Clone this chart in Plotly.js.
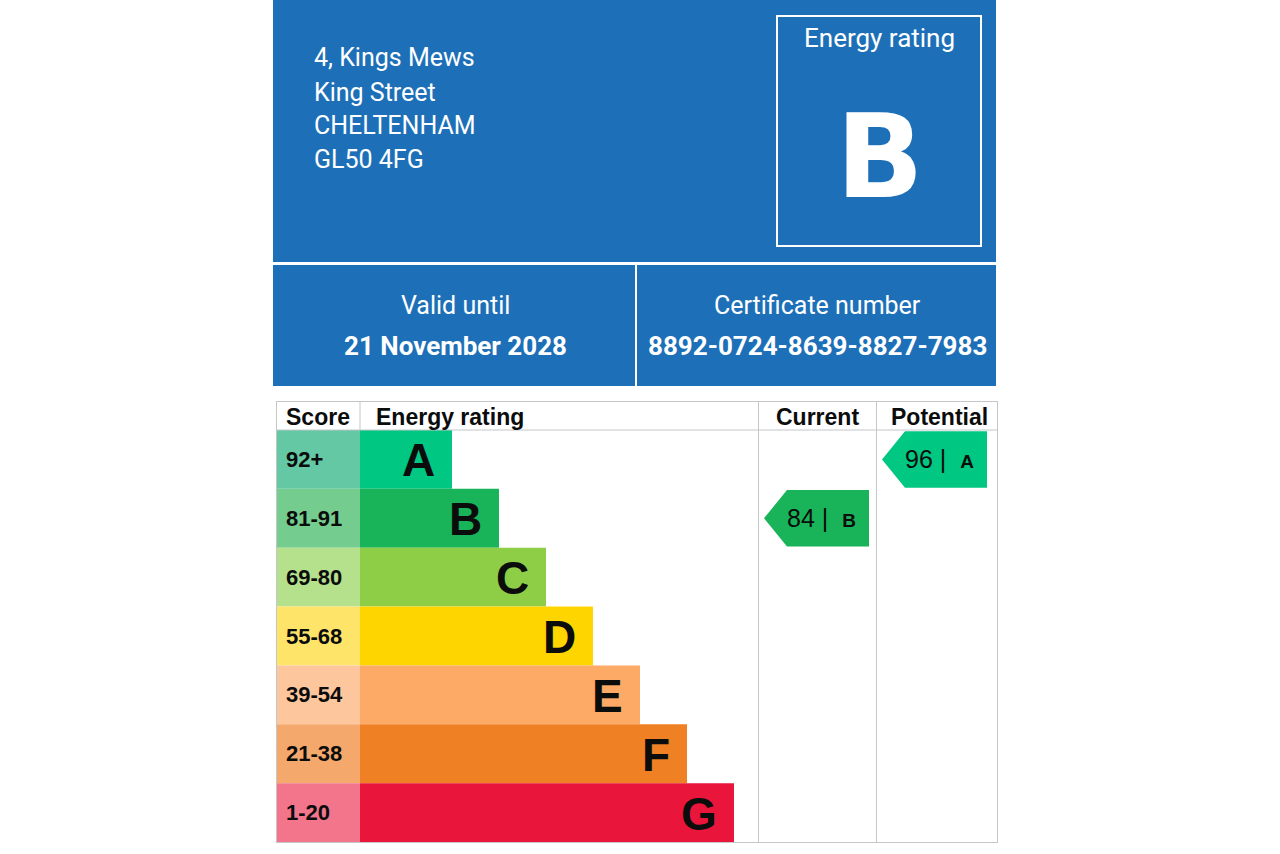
<!DOCTYPE html>
<html>
<head>
<meta charset="utf-8">
<script src="https://cdn.plot.ly/plotly-3.0.1.min.js"></script>
<style>html,body{margin:0;padding:0;background:#fff;}#chart{width:1280px;height:854px;}</style>
</head>
<body>
<div id="chart"></div>
<script>
// ---------- data ----------
const bands = ['A', 'B', 'C', 'D', 'E', 'F', 'G'];
const scoreRanges = ['92+', '81-91', '69-80', '55-68', '39-54', '21-38', '1-20'];
const bandMinScore = [92, 81, 69, 55, 39, 21, 1];
const bandLength = [2, 3, 4, 5, 6, 7, 8];
const bandColors = ['#00c781', '#19b459', '#8dce46', '#ffd500', '#fcaa65', '#ef8023', '#e9153b'];
const scoreCellColors = ['#63c8a3', '#74cc8e', '#b5e08c', '#ffe46a', '#fdc69d', '#f4a86b', '#f2758c'];
const currentScore = 84;
const potentialScore = 96;
const addressLines = ['4, Kings Mews', 'King Street', 'CHELTENHAM', 'GL50 4FG'];
const headerRatingLabel = 'Energy rating';
const headerRating = 'B';
const validUntilLabel = 'Valid until';
const validUntil = '21 November 2028';
const certificateLabel = 'Certificate number';
const certificateNumber = '8892-0724-8639-8827-7983';
const columnHeaders = ['Score', 'Energy rating', 'Current', 'Potential'];

// ---------- helpers (layout geometry in page pixels) ----------
const W = 1280, H = 854;
const fx = px => px / W;
const fy = py => 1 - py / H;
function bandIndex(score) {
  for (let i = 0; i < bandMinScore.length; i++) if (score >= bandMinScore[i]) return i;
  return bandMinScore.length - 1;
}
const rows = bands.map((b, i) => i);

const TABLE_TOP = 401, HEAD_BOTTOM = 430, TABLE_BOTTOM = 842;
const COL = [276, 360, 758, 876, 998];
const SANS = 'Roboto, "Noto Sans", sans-serif';
const ARIAL = '"Liberation Sans", Arial, sans-serif';
const BLUE = '#1d70b8';
const GRID = '#c4c6c8';

// ---------- traces ----------
const traces = [];
traces.push({
  type: 'bar', orientation: 'h', y: rows, x: rows.map(() => 1), base: 0,
  width: 1, xaxis: 'x', yaxis: 'y',
  marker: {color: scoreCellColors, line: {width: 0}}, hoverinfo: 'skip', showlegend: false
});
traces.push({
  type: 'bar', orientation: 'h', y: rows, x: bandLength, base: 0,
  width: 1, xaxis: 'x2', yaxis: 'y',
  marker: {color: bandColors, line: {width: 0}}, hoverinfo: 'skip', showlegend: false
});
// arrow geometry in column-pixel units (offsets from the column's left edge)
const ARROW = {tip: 6, shoulder: 29, right: 111, half: 0.48, text: 63};
function arrowTrace(score, xa) {
  const r = bandIndex(score);
  const h = ARROW.half;
  return {
    type: 'scatter', mode: 'lines', xaxis: xa, yaxis: 'y',
    x: [ARROW.shoulder, ARROW.right, ARROW.right, ARROW.shoulder, ARROW.tip, ARROW.shoulder],
    y: [r - h, r - h, r + h, r + h, r, r - h],
    fill: 'toself', fillcolor: bandColors[r], line: {width: 0, color: bandColors[r]},
    hoverinfo: 'skip', showlegend: false
  };
}
traces.push(arrowTrace(currentScore, 'x3'));
traces.push(arrowTrace(potentialScore, 'x4'));

// ---------- shapes ----------
const shapes = [];
shapes.push({type: 'rect', xref: 'paper', yref: 'paper', x0: fx(273), x1: fx(996), y0: fy(262), y1: fy(0), fillcolor: BLUE, line: {width: 0}, layer: 'below'});
shapes.push({type: 'rect', xref: 'paper', yref: 'paper', x0: fx(273), x1: fx(635), y0: fy(386), y1: fy(265), fillcolor: BLUE, line: {width: 0}, layer: 'below'});
shapes.push({type: 'rect', xref: 'paper', yref: 'paper', x0: fx(637), x1: fx(996), y0: fy(386), y1: fy(265), fillcolor: BLUE, line: {width: 0}, layer: 'below'});
shapes.push({type: 'rect', xref: 'paper', yref: 'paper', x0: fx(777), x1: fx(981), y0: fy(246), y1: fy(16), fillcolor: 'rgba(0,0,0,0)', line: {width: 2, color: '#ffffff'}});
function hline(py, x0, x1) { shapes.push({type: 'line', xref: 'paper', yref: 'paper', x0: fx(x0), x1: fx(x1), y0: fy(py), y1: fy(py), line: {width: 1, color: GRID}}); }
function vline(px, y0, y1) { shapes.push({type: 'line', xref: 'paper', yref: 'paper', x0: fx(px), x1: fx(px), y0: fy(y0), y1: fy(y1), line: {width: 1, color: GRID}}); }
hline(TABLE_TOP + 0.5, COL[0], COL[4]);
hline(HEAD_BOTTOM, COL[0], COL[4]);
hline(TABLE_BOTTOM + 0.5, COL[0], COL[4]);
vline(COL[0] + 0.5, TABLE_TOP, TABLE_BOTTOM);
vline(COL[1], TABLE_TOP, HEAD_BOTTOM);
vline(COL[2] + 0.5, TABLE_TOP, TABLE_BOTTOM);
vline(COL[3] + 0.5, TABLE_TOP, TABLE_BOTTOM);
vline(COL[4] - 0.5, TABLE_TOP, TABLE_BOTTOM);

// ---------- annotations ----------
const ann = [];
function ptext(text, px, py, size, opts) {
  ann.push(Object.assign({
    text: text, xref: 'paper', yref: 'paper', x: fx(px), y: fy(py),
    xanchor: 'center', yanchor: 'middle', showarrow: false,
    font: {family: SANS, size: size, color: '#ffffff'}
  }, opts || {}));
}
const addrY = [58, 92, 125, 159];
addressLines.forEach((t, i) => ptext(t, 312, addrY[i], 25, {xanchor: 'left'}));
ptext(headerRatingLabel, 879, 38, 26);
ptext('<b>' + headerRating + '</b>', 880, 157, 115, {font: {family: '"DejaVu Sans", sans-serif', size: 115, color: '#ffffff'}});
ptext(validUntilLabel, 455, 306, 25);
ptext('<b>' + validUntil + '</b>', 455, 346, 26);
ptext(certificateLabel, 817, 306, 25);
ptext('<b>' + certificateNumber + '</b>', 817, 346, 26);

// column headers
const hdrY = 417;
const hdrFont = {family: ARIAL, size: 23, color: '#0b0c0c'};
ptext('<b>' + columnHeaders[0] + '</b>', 284, hdrY, 23, {xanchor: 'left', font: hdrFont});
ptext('<b>' + columnHeaders[1] + '</b>', 374, hdrY, 23, {xanchor: 'left', font: hdrFont});
ptext('<b>' + columnHeaders[2] + '</b>', (COL[2] + COL[3]) / 2, hdrY, 23, {font: hdrFont});
ptext('<b>' + columnHeaders[3] + '</b>', (COL[3] + COL[4]) / 2 + 2, hdrY, 23, {font: hdrFont});

// score labels and band letters
rows.forEach(i => {
  ann.push({text: '<b>' + scoreRanges[i] + '</b>', xref: 'x', yref: 'y', x: 0, y: i,
    xanchor: 'left', yanchor: 'middle', xshift: 8, yshift: 0, showarrow: false,
    font: {family: ARIAL, size: 22, color: '#0b0c0c'}});
  ann.push({text: '<b>' + bands[i] + '</b>', xref: 'x2', yref: 'y', x: bandLength[i], y: i,
    xanchor: 'right', yanchor: 'middle', xshift: -15, yshift: -1, showarrow: false,
    font: {family: ARIAL, size: 46, color: '#0b0c0c'}});
});
function arrowLabel(score, xa) {
  const r = bandIndex(score);
  ann.push({text: score + ' |  <b><span style="font-size:19px">' + bands[r] + '</span></b>',
    xref: xa, yref: 'y', x: ARROW.text, y: r, xanchor: 'center', yanchor: 'middle', showarrow: false,
    font: {family: ARIAL, size: 25, color: '#0b0c0c'}});
}
arrowLabel(currentScore, 'x3');
arrowLabel(potentialScore, 'x4');

// ---------- layout ----------
const hidden = {visible: false, fixedrange: true};
const layout = {
  width: W, height: H, margin: {l: 0, r: 0, t: 0, b: 0},
  paper_bgcolor: '#ffffff', plot_bgcolor: 'rgba(0,0,0,0)', showlegend: false,
  xaxis: Object.assign({domain: [fx(COL[0]), fx(COL[1])], range: [0, 1]}, hidden),
  xaxis2: Object.assign({domain: [fx(COL[1]), fx(COL[2])], range: [0.0426, 8.511]}, hidden),
  xaxis3: Object.assign({domain: [fx(COL[2]), fx(COL[3])], range: [0, COL[3] - COL[2]]}, hidden),
  xaxis4: Object.assign({domain: [fx(COL[3]), fx(COL[4])], range: [0, COL[4] - COL[3]]}, hidden),
  yaxis: Object.assign({domain: [fy(TABLE_BOTTOM), fy(HEAD_BOTTOM)], range: [6.5, -0.5]}, hidden),
  shapes: shapes, annotations: ann
};
Plotly.newPlot('chart', traces, layout, {displayModeBar: false, staticPlot: true});
</script>
</body>
</html>
